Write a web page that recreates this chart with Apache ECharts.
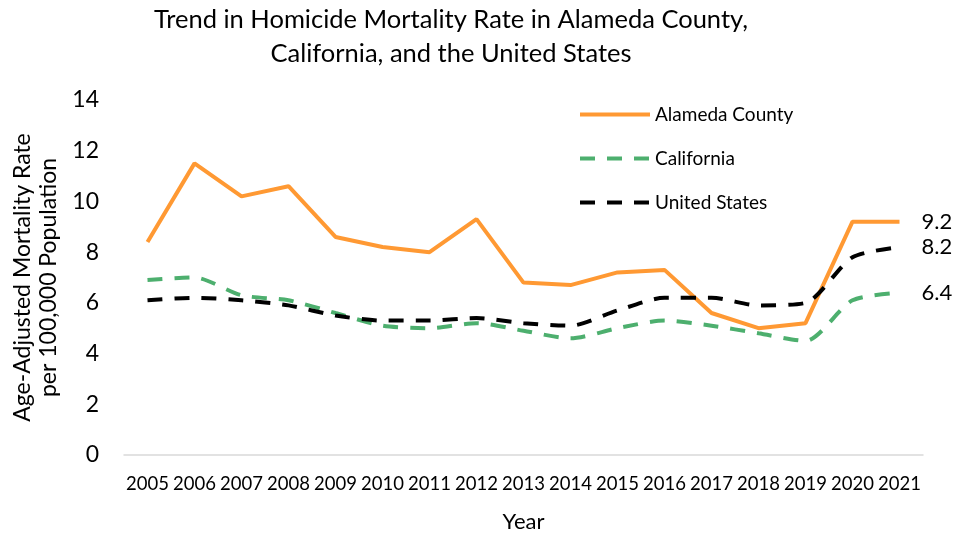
<!DOCTYPE html>
<html>
<head>
<meta charset="utf-8">
<script src="https://cdn.jsdelivr.net/npm/echarts@6/dist/echarts.min.js"></script>
<style>html,body{margin:0;padding:0;background:#fff}#c{width:962px;height:536px}</style>
</head>
<body>
<div id="c"></div>
<script>
const years = ['2005','2006','2007','2008','2009','2010','2011','2012','2013','2014','2015','2016','2017','2018','2019','2020','2021'];
const alameda = [8.4, 11.5, 10.2, 10.6, 8.6, 8.2, 8.0, 9.3, 6.8, 6.7, 7.2, 7.3, 5.6, 5.0, 5.2, 9.2, 9.2];
const california = [6.9, 7.0, 6.3, 6.1, 5.6, 5.1, 5.0, 5.2, 4.9, 4.6, 5.0, 5.3, 5.1, 4.8, 4.5, 6.1, 6.4];
const unitedStates = [6.1, 6.2, 6.1, 5.9, 5.5, 5.3, 5.3, 5.4, 5.2, 5.1, 5.7, 6.2, 6.2, 5.9, 6.0, 7.8, 8.2];
const yTicks = [0, 2, 4, 6, 8, 10, 12, 14];

const FONT = 'Lato';
const chart = echarts.init(document.getElementById('c'));
const endLab = {show: true, formatter: p => p.value.toFixed(1), color: '#000', fontFamily: FONT, fontSize: 22, distance: 22};
chart.setOption({
  animation: false,
  textStyle: {fontFamily: FONT},
  title: {
    text: 'Trend in Homicide Mortality Rate in Alameda County,\nCalifornia, and the United States',
    left: 446, top: -2, textAlign: 'center',
    textStyle: {fontFamily: FONT, fontSize: 25.5, fontWeight: 'normal', color: '#000', lineHeight: 34}
  },
  legend: {
    orient: 'vertical', left: 573, top: 100, itemGap: 25, itemWidth: 70, itemHeight: 14,
    itemStyle: {opacity: 0},
    lineStyle: {width: 4},
    textStyle: {fontFamily: FONT, fontSize: 19, color: '#000'},
    data: ['Alameda County', 'California', 'United States']
  },
  grid: {left: 124, right: 39, top: 100, bottom: 81, containLabel: false, outerBoundsMode: 'none'},
  xAxis: {
    type: 'category', data: years, boundaryGap: true,
    name: 'Year', nameLocation: 'middle', nameGap: 56,
    nameTextStyle: {fontFamily: FONT, fontSize: 22, color: '#000'},
    axisLine: {lineStyle: {color: '#d9d9d9', width: 1.5}},
    axisTick: {show: false},
    axisLabel: {color: '#000', fontFamily: FONT, fontSize: 18.5, margin: 20, interval: 0}
  },
  yAxis: {
    type: 'value', min: 0, max: 14, interval: 2,
    name: 'Age-Adjusted Mortality Rate\nper 100,000 Population', nameLocation: 'middle', nameGap: 55, nameRotate: 90,
    nameTextStyle: {fontFamily: FONT, fontSize: 23, color: '#000', lineHeight: 26},
    axisLine: {show: false}, axisTick: {show: false}, splitLine: {show: false},
    axisLabel: {color: '#000', fontFamily: FONT, fontSize: 23, margin: 25,
      formatter: v => yTicks.includes(v) ? String(v) : ''}
  },
  series: [
    {name: 'Alameda County', type: 'line', data: alameda, symbol: 'none',
     lineStyle: {color: '#ff9933', width: 4}, itemStyle: {color: '#ff9933'}, endLabel: endLab},
    {name: 'California', type: 'line', data: california, symbol: 'none', smooth: 0.25,
     lineStyle: {color: '#4daf6e', width: 4, type: [15, 12]}, itemStyle: {color: '#4daf6e'}, endLabel: endLab},
    {name: 'United States', type: 'line', data: unitedStates, symbol: 'none', smooth: 0.25,
     lineStyle: {color: '#000', width: 4, type: [15, 12]}, itemStyle: {color: '#000'}, endLabel: endLab}
  ]
});
</script>
</body>
</html>
